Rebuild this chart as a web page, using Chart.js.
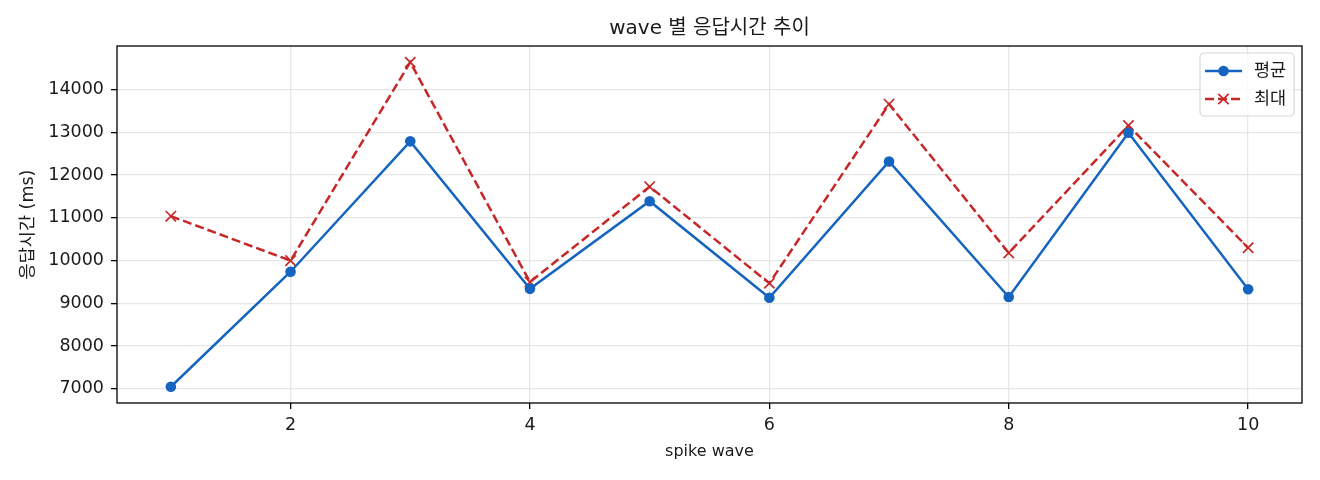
<!DOCTYPE html>
<html>
<head>
<meta charset="utf-8">
<script src="https://cdn.jsdelivr.net/npm/chart.js@4.4.1/dist/chart.umd.min.js"></script>
<style>
  html, body { margin: 0; padding: 0; background: #fff; }
  #wrap { width: 1320px; height: 480px; position: relative; }
</style>
</head>
<body>
<div id="wrap"><canvas id="c" width="1320" height="480"></canvas></div>
<script>
const waves = [1, 2, 3, 4, 5, 6, 7, 8, 9, 10];
const avgMs = [7050, 9740, 12790, 9340, 11390, 9130, 12320, 9150, 12990, 9330];
const maxMs = [11040, 10000, 14640, 9500, 11730, 9470, 13660, 10180, 13160, 10300];
const xTicks = [2, 4, 6, 8, 10];
const yTicks = [7000, 8000, 9000, 10000, 11000, 12000, 13000, 14000];
const titleText = 'wave 별 응답시간 추이';
const xTitle = 'spike wave';
const yTitle = '응답시간 (ms)';
const avgLabel = '평균';
const maxLabel = '최대';

const FONT = '"DejaVu Sans", "Noto Sans CJK KR", sans-serif';
const BLUE = '#1565C0';
const RED = '#C62828';
const GRID = '#e6e6e6';
const TEXT = '#1a1a1a';

const frameLegend = {
  id: 'frameLegend',
  afterDraw(chart) {
    const ctx = chart.ctx;
    const a = chart.chartArea;
    ctx.save();
    ctx.strokeStyle = '#000';
    ctx.lineWidth = 1.3;
    ctx.strokeRect(a.left, a.top, a.right - a.left, a.bottom - a.top);

    // legend box (matplotlib style, upper right)
    const bx = 1200, by = 53, bw = 94, bh = 63, r = 4;
    ctx.beginPath();
    ctx.moveTo(bx + r, by);
    ctx.arcTo(bx + bw, by, bx + bw, by + bh, r);
    ctx.arcTo(bx + bw, by + bh, bx, by + bh, r);
    ctx.arcTo(bx, by + bh, bx, by, r);
    ctx.arcTo(bx, by, bx + bw, by, r);
    ctx.closePath();
    ctx.fillStyle = 'rgba(255,255,255,0.8)';
    ctx.fill();
    ctx.strokeStyle = '#d6d6d6';
    ctx.lineWidth = 1.2;
    ctx.stroke();

    const rows = [71, 99];
    chart.data.datasets.forEach((ds, i) => {
      const y = rows[i];
      ctx.strokeStyle = ds.borderColor;
      ctx.lineWidth = ds.borderWidth;
      ctx.setLineDash(ds.borderDash || []);
      ctx.beginPath();
      ctx.moveTo(1205, y);
      ctx.lineTo(1242, y);
      ctx.stroke();
      ctx.setLineDash([]);
      const cx = 1223.5;
      if (ds.pointStyle === 'circle') {
        ctx.fillStyle = ds.pointBackgroundColor;
        ctx.beginPath();
        ctx.arc(cx, y, ds.pointRadius, 0, Math.PI * 2);
        ctx.fill();
      } else {
        const d = ds.pointRadius * Math.SQRT1_2;
        ctx.strokeStyle = ds.pointBorderColor;
        ctx.lineWidth = ds.pointBorderWidth;
        ctx.beginPath();
        ctx.moveTo(cx - d, y - d); ctx.lineTo(cx + d, y + d);
        ctx.moveTo(cx + d, y - d); ctx.lineTo(cx - d, y + d);
        ctx.stroke();
      }
      ctx.fillStyle = TEXT;
      ctx.font = '17.5px ' + FONT;
      ctx.textAlign = 'left';
      ctx.textBaseline = 'middle';
      ctx.fillText(ds.label, 1254, y);
    });
    ctx.restore();
  }
};

new Chart(document.getElementById('c'), {
  type: 'line',
  data: {
    datasets: [
      {
        label: avgLabel,
        data: waves.map((w, i) => ({ x: w, y: avgMs[i] })),
        borderColor: BLUE,
        backgroundColor: BLUE,
        borderWidth: 2.5,
        pointStyle: 'circle',
        pointRadius: 5.3,
        pointBackgroundColor: BLUE,
        pointBorderColor: BLUE,
        pointBorderWidth: 0,
        tension: 0,
        fill: false
      },
      {
        label: maxLabel,
        data: waves.map((w, i) => ({ x: w, y: maxMs[i] })),
        borderColor: RED,
        backgroundColor: RED,
        borderWidth: 2.5,
        borderDash: [9, 4],
        pointStyle: 'crossRot',
        pointRadius: 7.3,
        pointBackgroundColor: RED,
        pointBorderColor: RED,
        pointBorderWidth: 1.7,
        tension: 0,
        fill: false
      }
    ]
  },
  options: {
    responsive: false,
    animation: false,
    devicePixelRatio: 1,
    layout: { padding: { left: 0, right: 18, top: 0, bottom: 0 } },
    plugins: {
      legend: { display: false },
      tooltip: { enabled: false },
      title: {
        display: true,
        fullSize: false,
        text: titleText,
        color: TEXT,
        font: { family: FONT, size: 20, weight: 'normal', lineHeight: 1.2 },
        padding: { top: 17, bottom: 5 }
      }
    },
    scales: {
      x: {
        type: 'linear',
        min: 0.55,
        max: 10.45,
        afterBuildTicks: (s) => { s.ticks = xTicks.map(v => ({ value: v })); },
        afterFit: (s) => { s.height = 77; },
        grid: { color: GRID, lineWidth: 1.3, tickColor: '#000', tickLength: 6, tickWidth: 1.3, drawTicks: true },
        border: { display: false },
        ticks: { color: TEXT, font: { family: FONT, size: 17.5 }, padding: 6, maxRotation: 0,
                 callback: (v) => String(v) },
        title: {
          display: true, text: xTitle, color: TEXT,
          font: { family: FONT, size: 16, lineHeight: 1.2 },
          padding: { top: 0, bottom: 19 }
        }
      },
      y: {
        type: 'linear',
        min: 6670,
        max: 15020,
        afterBuildTicks: (s) => { s.ticks = yTicks.map(v => ({ value: v })); },
        afterFit: (s) => { s.width = 117; },
        grid: { color: GRID, lineWidth: 1.3, tickColor: '#000', tickLength: 6, tickWidth: 1.3, drawTicks: true },
        border: { display: false },
        ticks: { color: TEXT, font: { family: FONT, size: 17.5 }, padding: 7,
                 callback: (v) => String(v) },
        title: {
          display: true, text: yTitle, color: TEXT,
          font: { family: FONT, size: 17.5, lineHeight: 1.2 },
          padding: { top: 17.5, bottom: 0 }
        }
      }
    }
  },
  plugins: [frameLegend]
});
</script>
</body>
</html>
